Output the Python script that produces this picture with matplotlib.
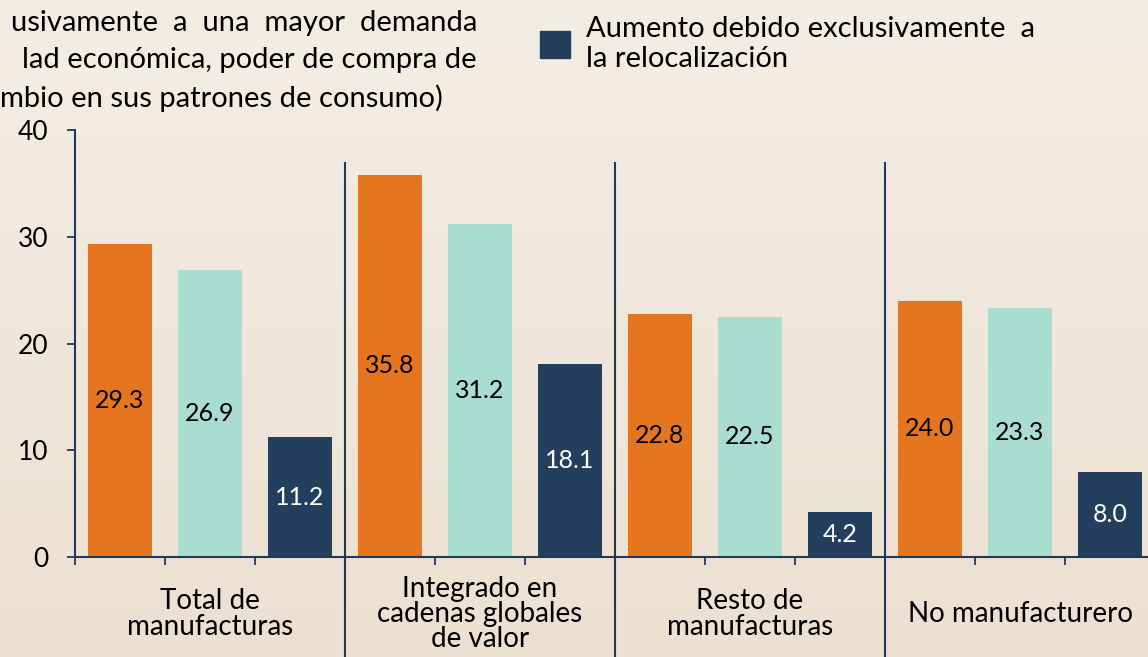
import numpy as np
import matplotlib
matplotlib.use("Agg")
import matplotlib.pyplot as plt
from matplotlib.patches import Patch

plt.rcParams['font.family'] = ['Lato', 'DejaVu Sans']

categories = ['Total de\nmanufacturas', 'Integrado en\ncadenas globales\nde valor',
              'Resto de\nmanufacturas', 'No manufacturero']
serie_a = [29.3, 35.8, 22.8, 24.0]   # orange
serie_b = [26.9, 31.2, 22.5, 23.3]   # teal
serie_c = [11.2, 18.1, 4.2, 8.0]     # navy
yticks = [0, 10, 20, 30, 40]

orange = '#E5761F'
teal = '#A8DDD0'
navy = '#243F5E'
axcol = '#1F3A5A'

fig = plt.figure(figsize=(11.48, 6.57), dpi=100)

# background gradient
bg = fig.add_axes([0, 0, 1, 1], zorder=-10)
grad = np.linspace(0, 1, 256).reshape(-1, 1)
top = np.array([243, 238, 228]) / 255
bot = np.array([236, 224, 209]) / 255
img = top[None, None, :] * (1 - grad[:, :, None]) + bot[None, None, :] * grad[:, :, None]
bg.imshow(img, aspect='auto', extent=[0, 1, 0, 1])
bg.axis('off')

ax = fig.add_axes([75/1148, 1 - 557/657, 1080/1148, 427/657])
ax.patch.set_alpha(0)

n = len(categories)
base = np.arange(n) * 3
w = 0.71
ax.bar(base + 0.5, serie_a, w, color=orange)
ax.bar(base + 1.5, serie_b, w, color=teal)
ax.bar(base + 2.5, serie_c, w, color=navy)

for i in range(n):
    ax.text(base[i] + 0.5, serie_a[i] / 2, f'{serie_a[i]:.1f}', ha='center', va='center', fontsize=18, color='black')
    ax.text(base[i] + 1.5, serie_b[i] / 2, f'{serie_b[i]:.1f}', ha='center', va='center', fontsize=18, color='black')
    ax.text(base[i] + 2.5, serie_c[i] / 2, f'{serie_c[i]:.1f}', ha='center', va='center', fontsize=18, color='white')

# group separators
for g in range(1, n):
    ax.axvline(3 * g, ymin=-0.234, ymax=0.923, color=axcol, lw=1.5, clip_on=False)

ax.set_xlim(0, 3 * n)
ax.set_ylim(0, 40)
ax.set_yticks(yticks)
ax.set_xticks(np.arange(0, 3 * n))
ax.set_xticklabels([])
ax.set_xticks(base + 1.5, minor=True)
ax.set_xticklabels(categories, minor=True, fontsize=20, linespacing=0.97)
ax.tick_params(axis='x', which='major', direction='out', length=6, width=1.3, color=axcol)
ax.tick_params(axis='x', which='minor', length=0, pad=41)
for lbl in ax.get_xticklabels(minor=True):
    lbl.set_va('center')
ax.tick_params(axis='y', direction='out', length=6, width=1.3, color=axcol, labelsize=19, pad=13)

for s in ['top', 'right']:
    ax.spines[s].set_visible(False)
for s in ['left', 'bottom']:
    ax.spines[s].set_color(axcol)
    ax.spines[s].set_linewidth(1.5)

# legend (partially cropped in the original)
fig.text(477/1148, 1 - 23/657, 'usivamente  a  una  mayor  demanda', ha='right', va='center', fontsize=21)
fig.text(477/1148, 1 - 60/657, 'lad económica, poder de compra de', ha='right', va='center', fontsize=21)
fig.text(0, 1 - 98/657, 'mbio en sus patrones de consumo)', ha='left', va='center', fontsize=21)

fig.legend(handles=[Patch(color=navy)], labels=['Aumento debido exclusivamente  a\nla relocalización'],
           loc='upper left', bbox_to_anchor=(528/1148, 1 - 4/657), frameon=False, fontsize=21,
           handlelength=1.05, handleheight=1.05, handletextpad=0.55, borderaxespad=0)

fig.savefig('out.png', dpi=100)
